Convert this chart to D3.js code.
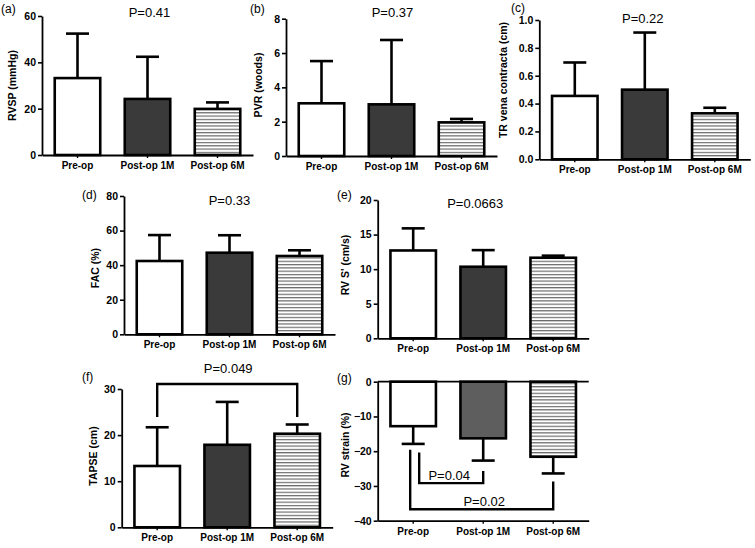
<!DOCTYPE html>
<html>
<head>
<meta charset="utf-8">
<script src="https://cdn.jsdelivr.net/npm/d3@7"></script>
<style>
  html, body { margin: 0; padding: 0; background: #fff; }
  svg { display: block; }
  text { font-family: Arial, "Liberation Sans", Helvetica, sans-serif; }
</style>
</head>
<body>
<svg id="chart" width="755" height="548"></svg>
<script>
// ---------------- DATA ----------------
const categories = ["Pre-op", "Post-op 1M", "Post-op 6M"];

const rvspMean  = [33.2, 24.2, 19.9];
const rvspSd    = [19.2, 18.2, 2.8];
const rvspTicks = [0, 20, 40, 60];

const pvrMean  = [3.07, 3.01, 1.96];
const pvrSd    = [2.46, 3.75, 0.2];
const pvrTicks = [0, 2, 4, 6, 8];

const trvcMean  = [0.455, 0.5, 0.33];
const trvcSd    = [0.24, 0.41, 0.04];
const trvcTicks = [0, 0.2, 0.4, 0.6, 0.8, 1.0];

const facMean  = [42.4, 47.2, 45.3];
const facSd    = [15.0, 10.1, 3.3];
const facTicks = [0, 20, 40, 60, 80];

const rvsMean  = [12.7, 10.35, 11.65];
const rvsSd    = [3.2, 2.4, 0.3];
const rvsTicks = [0, 5, 10, 15, 20];

const tapseMean  = [13.3, 17.9, 20.3];
const tapseSd    = [8.4, 9.3, 2.0];
const tapseTicks = [0, 10, 20, 30];

const strainMean  = [-12.8, -16.3, -21.6];
const strainSd    = [5.1, 6.4, 4.8];
const strainTicks = [-40, -30, -20, -10, 0];

const pLabels = ["P=0.41", "P=0.37", "P=0.22", "P=0.33", "P=0.0663", "P=0.049"];
const pLabelValues = [59.7, 8.1, 0.98, 75, 18.8, 33.5];

// significance brackets: from/to category index, horizontal level, leg ends, label
const tapseBrackets  = [{from: 0, to: 2, level: 31.1, endFrom: 23.9, endTo: 23.9, label: "P=0.049"}];
const strainBrackets = [
  {from: 0, to: 1, level: -29.2, endFrom: -20.4, endTo: -25.7, label: "P=0.04"},
  {from: 0, to: 2, level: -36.7, endFrom: -19.6, endTo: -28.7, label: "P=0.02"}
];

// ---------------- LAYOUT ----------------
const panels = [
  {tag: "(a)", mean: rvspMean,  sd: rvspSd,  ticks: rvspTicks,  fmt: d3.format("d"),
   x0: 42,    yTop: 16,   yBot: 155,   title: "RVSP (mmHg)", titleX: 12, titleY: 85.5,
   tagX: 1, tagY: 13, p: 0, pDx: 2},
  {tag: "(b)", mean: pvrMean,   sd: pvrSd,   ticks: pvrTicks,   fmt: d3.format("d"),
   x0: 286,   yTop: 18.7, yBot: 156,   title: "PVR (woods)", titleX: 258, titleY: 85,
   tagX: 250, tagY: 13, p: 1, pDx: 1},
  {tag: "(c)", mean: trvcMean,  sd: trvcSd,  ticks: trvcTicks,  fmt: d3.format(".1f"),
   x0: 539.3, yTop: 20,   yBot: 159.3, title: "TR vena contracta (cm)", titleX: 503, titleY: 80,
   tagX: 511, tagY: 11.5, p: 2, pDx: -2},
  {tag: "(d)", mean: facMean,   sd: facSd,   ticks: facTicks,   fmt: d3.format("d"),
   x0: 124,   yTop: 196,  yBot: 334.3, title: "FAC (%)", titleX: 95, titleY: 268,
   tagX: 82, tagY: 199, p: 3, pDx: 0},
  {tag: "(e)", mean: rvsMean,   sd: rvsSd,   ticks: rvsTicks,   fmt: d3.format("d"),
   x0: 377.7, yTop: 200,  yBot: 338.3, title: "RV S' (cm/s)", titleX: 345, titleY: 265,
   tagX: 337, tagY: 199, p: 4, pDx: -8},
  {tag: "(f)", mean: tapseMean, sd: tapseSd, ticks: tapseTicks, fmt: d3.format("d"),
   x0: 121.7, yTop: 389,  yBot: 527.3, title: "TAPSE (cm)", titleX: 93, titleY: 456,
   tagX: 82, tagY: 381, brackets: tapseBrackets},
  {tag: "(g)", mean: strainMean, sd: strainSd, ticks: strainTicks, fmt: d3.format("d"),
   x0: 377.7, yTop: 381.7, yBot: 520.7, title: "RV strain (%)", titleX: 345, titleY: 445,
   tagX: 337, tagY: 382, brackets: strainBrackets, negative: true, legDx: [6, -3]}
];

const svg = d3.select("#chart");

// stripe pattern
const defs = svg.append("defs");
const pat = defs.append("pattern").attr("id", "stripes")
  .attr("patternUnits", "userSpaceOnUse").attr("width", 8).attr("height", 3.3);
pat.append("rect").attr("width", 8).attr("height", 3.3).attr("fill", "#fff");
pat.append("rect").attr("y", 0).attr("width", 8).attr("height", 1.2).attr("fill", "#6a6a6a");

const STEP_RANGE = 211;

panels.forEach((P) => {
  const g = svg.append("g");
  const x = d3.scaleBand().domain(categories)
    .range([P.x0, P.x0 + STEP_RANGE]).paddingInner(0.35).paddingOuter(0.182);
  const y = d3.scaleLinear().domain([P.ticks[0], P.ticks[P.ticks.length - 1]])
    .range([P.yBot, P.yTop]);
  const cx = (i) => x(categories[i]) + x.bandwidth() / 2;

  const fills = P.negative ? ["#fff", "#5e5e5e", "url(#stripes)"]
                           : ["#fff", "#3a3a3a", "url(#stripes)"];
  const base = 0;

  // error bars (drawn first so bar outlines sit on top)
  const eb = g.append("g").attr("stroke", "#000").attr("stroke-width", 2.6).attr("fill", "none");
  categories.forEach((c, i) => {
    const m = P.mean[i];
    const end = P.negative ? m - P.sd[i] : m + P.sd[i];
    eb.append("line").attr("x1", cx(i)).attr("x2", cx(i))
      .attr("y1", y(m)).attr("y2", y(end));
    eb.append("line").attr("x1", cx(i) - 11.5).attr("x2", cx(i) + 11.5)
      .attr("y1", y(end)).attr("y2", y(end));
  });

  // bars
  g.append("g").selectAll("rect").data(categories).join("rect")
    .attr("x", (c) => x(c))
    .attr("width", x.bandwidth())
    .attr("y", (c, i) => Math.min(y(P.mean[i]), y(base)))
    .attr("height", (c, i) => Math.abs(y(P.mean[i]) - y(base)))
    .attr("fill", (c, i) => fills[i])
    .attr("stroke", "#000").attr("stroke-width", 2.6);

  // y axis
  const ya = g.append("g").attr("transform", `translate(${P.x0},0)`)
    .call(d3.axisLeft(y).tickValues(P.ticks).tickFormat(P.fmt).tickSize(4).tickSizeOuter(0).tickPadding(2));
  ya.select(".domain").attr("stroke-width", 1.8);
  ya.selectAll(".tick line").attr("stroke-width", 1.6);
  ya.selectAll("text").attr("font-size", 10.5).attr("font-weight", "bold").attr("fill", "#000")
    .attr("font-family", "Arial, 'Liberation Sans', sans-serif");

  // x axis
  const axisY = P.negative ? y(P.ticks[0]) : y(0);
  const xa = g.append("g").attr("transform", `translate(0,${axisY})`)
    .call(d3.axisBottom(x).tickSize(3).tickSizeOuter(0).tickPadding(4));
  xa.select(".domain").attr("stroke-width", 1.8);
  xa.selectAll(".tick line").attr("stroke-width", 1.4);
  xa.selectAll("text").attr("font-size", 10).attr("font-weight", "bold").attr("fill", "#000")
    .attr("font-family", "Arial, 'Liberation Sans', sans-serif");

  if (P.negative) {
    g.append("line").attr("x1", P.x0).attr("x2", P.x0 + STEP_RANGE)
      .attr("y1", y(0)).attr("y2", y(0)).attr("stroke", "#000").attr("stroke-width", 1.8);
  }

  // y title
  g.append("text").attr("transform", `translate(${P.titleX},${P.titleY}) rotate(-90)`)
    .attr("text-anchor", "middle").attr("dy", "0.35em")
    .attr("font-size", 10.5).attr("font-weight", "bold").text(P.title);

  // panel tag
  g.append("text").attr("x", P.tagX).attr("y", P.tagY)
    .attr("font-size", 12).text(P.tag);

  // P label
  if (P.p !== undefined) {
    g.append("text").attr("x", cx(1) + P.pDx).attr("y", y(pLabelValues[P.p]))
      .attr("text-anchor", "middle").attr("font-size", 13).text(pLabels[P.p]);
  }

  // brackets
  if (P.brackets) {
    P.brackets.forEach((b, k) => {
      const dx = P.legDx ? P.legDx[k] : 0;
      const xl = cx(b.from) + dx, xr = cx(b.to);
      g.append("path")
        .attr("d", `M${xl},${y(b.endFrom)}V${y(b.level)}H${xr}V${y(b.endTo)}`)
        .attr("fill", "none").attr("stroke", "#000").attr("stroke-width", 2.4);
      const lblY = P.negative ? y(b.level) - 3 : y(b.level) - 11;
      g.append("text").attr("x", (cx(b.from) + cx(b.to)) / 2 + 1)
        .attr("y", lblY).attr("text-anchor", "middle").attr("font-size", 13).text(b.label);
    });
  }
});
</script>
</body>
</html>
